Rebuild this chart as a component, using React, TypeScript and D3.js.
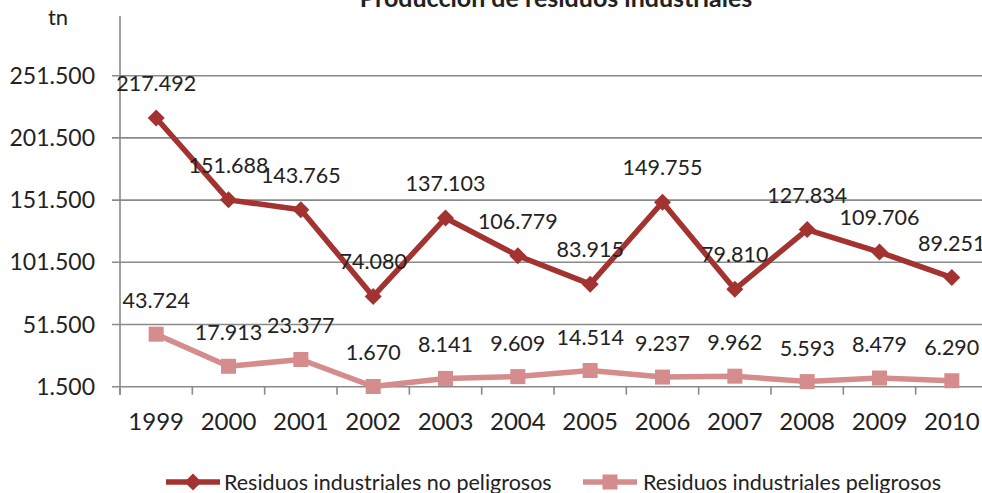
import React from 'react';
import * as d3 from 'd3';

const years = ['1999', '2000', '2001', '2002', '2003', '2004', '2005', '2006', '2007', '2008', '2009', '2010'];
const noPeligrosos = [217492, 151688, 143765, 74080, 137103, 106779, 83915, 149755, 79810, 127834, 109706, 89251];
const peligrosos = [43724, 17913, 23377, 1670, 8141, 9609, 14514, 9237, 9962, 5593, 8479, 6290];
const yTicks = [1500, 51500, 101500, 151500, 201500, 251500];
const seriesNames = ['Residuos industriales no peligrosos', 'Residuos industriales peligrosos'];

const W = 982;
const H = 493;
const left = 120;
const plotRight = 988;
const plotBottom = 386.7;
const plotTop = 13.5;

const font = 'Lato, "Open Sans", sans-serif';
const darkRed = '#A33331';
const lightRed = '#D58C8C';
const gridColor = '#8A8A8A';

const fmt = (v: number) => d3.format(',')(v).replace(/,/g, '.');

export default function App() {
    const x = d3.scaleBand<string>().domain(years).range([left, plotRight]);
    const y = d3.scaleLinear().domain([1500, 301500]).range([plotBottom, plotTop]);
    const cx = (yr: string) => (x(yr) ?? 0) + x.bandwidth() / 2;

    const line = d3.line<number>()
        .x((_, i) => cx(years[i]))
        .y(d => y(d));

    const diamond = (px: number, py: number, r: number) =>
        `M${px},${py - r}L${px + r},${py}L${px},${py + r}L${px - r},${py}Z`;

    // boundaries between categories, where the x ticks sit
    const bounds = years.map((_, i) => left + i * x.step());

    return (
        <svg width={W} height={H} style={{ position: 'absolute', left: 0, top: 0, background: '#fff' }} fontFamily={font}>
            {/* title, clipped by the top edge */}
            <text x={556} y={7} textAnchor="middle" fontSize={25} fontWeight="bold" fill="#222">
                Producción de residuos industriales
            </text>
            <text x={58} y={25} textAnchor="middle" fontSize={22} fill="#222">tn</text>

            {/* gridlines + y labels */}
            {yTicks.map(t => (
                <g key={t}>
                    <line x1={112} x2={W} y1={y(t)} y2={y(t)} stroke={gridColor} strokeWidth={1.6} />
                    <text x={95} y={y(t) + 8} textAnchor="end" fontSize={23} fill="#222">{fmt(t)}</text>
                </g>
            ))}
            <line x1={left} x2={left} y1={16} y2={plotBottom + 8} stroke={gridColor} strokeWidth={1.6} />

            {/* x ticks + labels */}
            {bounds.map((bx, i) => (
                <line key={i} x1={bx} x2={bx} y1={plotBottom} y2={plotBottom + 8} stroke={gridColor} strokeWidth={1.6} />
            ))}
            {years.map(yr => (
                <text key={yr} x={cx(yr)} y={430} textAnchor="middle" fontSize={24} fill="#222">{yr}</text>
            ))}

            {/* series lines */}
            <path d={line(peligrosos) ?? ''} fill="none" stroke={lightRed} strokeWidth={5.5} strokeLinejoin="round" />
            {peligrosos.map((v, i) => (
                <rect key={i} x={cx(years[i]) - 7.5} y={y(v) - 7.5} width={15} height={15} fill={lightRed} />
            ))}
            <path d={line(noPeligrosos) ?? ''} fill="none" stroke={darkRed} strokeWidth={5.5} strokeLinejoin="round" />
            {noPeligrosos.map((v, i) => (
                <path key={i} d={diamond(cx(years[i]), y(v), 8.5)} fill={darkRed} />
            ))}

            {/* data labels */}
            {noPeligrosos.map((v, i) => (
                <text key={i} x={cx(years[i])} y={y(v) - 27} textAnchor="middle" fontSize={21.5} fill="#222">{fmt(v)}</text>
            ))}
            {peligrosos.map((v, i) => (
                <text key={i} x={cx(years[i])} y={y(v) - 26} textAnchor="middle" fontSize={21.5} fill="#222">{fmt(v)}</text>
            ))}

            {/* legend */}
            <g>
                <line x1={166} x2={220} y1={482} y2={482} stroke={darkRed} strokeWidth={5.5} />
                <path d={diamond(193, 482, 8.5)} fill={darkRed} />
                <text x={224} y={490} fontSize={21.5} fill="#222">{seriesNames[0]}</text>
                <line x1={583} x2={637} y1={482} y2={482} stroke={lightRed} strokeWidth={5.5} />
                <rect x={602.5} y={474.5} width={15} height={15} fill={lightRed} />
                <text x={643} y={490} fontSize={21.5} fill="#222">{seriesNames[1]}</text>
            </g>
        </svg>
    );
}
